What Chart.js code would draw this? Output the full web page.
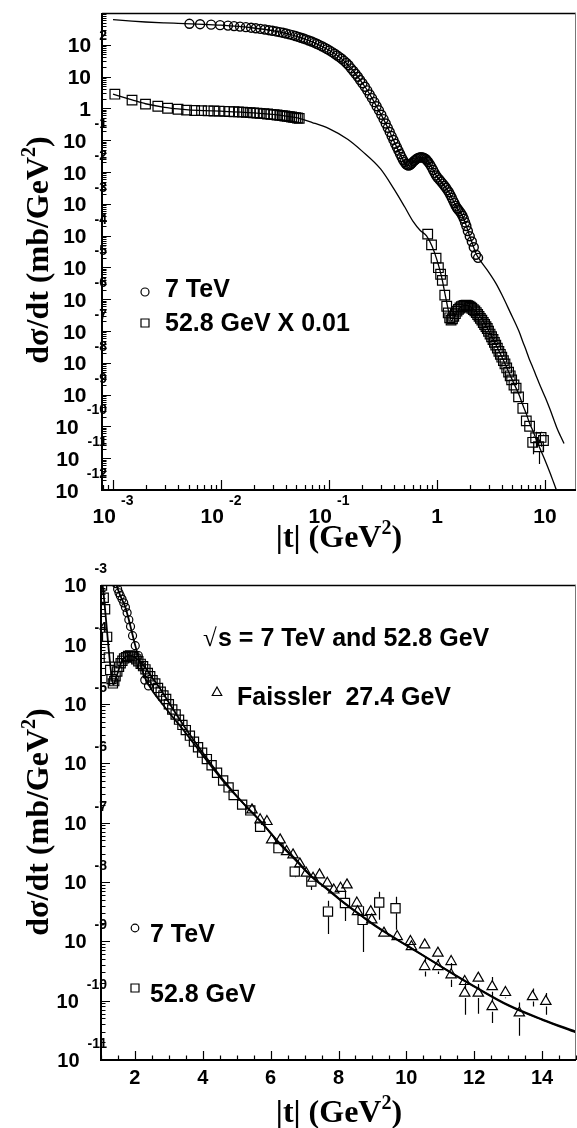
<!DOCTYPE html>
<html><head><meta charset="utf-8">
<script src="https://cdn.jsdelivr.net/npm/chart.js@4.4.1/dist/chart.umd.min.js"></script>
<style>
html,body{margin:0;padding:0;background:#fff;}
#wrap{position:relative;width:577px;height:1128px;overflow:hidden;}
canvas{position:absolute;left:0;}
#c1{top:0;} #c2{top:545px;}
</style></head><body>
<div id="wrap"><canvas id="c1" width="577" height="562"></canvas><canvas id="c2" width="577" height="583"></canvas></div>
<script>
// 7 TeV data, |t| in GeV^2, dsigma/dt in mb/GeV^2
const t7 = [0.0051,0.0064,0.0081,0.0098,0.0116,0.0132,0.015,0.017,0.019,0.021,0.0232,0.0255,0.0278,0.030,0.0325,0.035,0.0375,0.040,0.043,0.046,0.049,0.052,0.055,0.058,0.061,0.065,0.069,0.073,0.077,0.081,0.086,0.091,0.096,0.101,0.107,0.113,0.119,0.125,0.131,0.138,0.145,0.152,0.160,0.168,0.176,0.185,0.194,0.204,0.215,0.226,0.238,0.250,0.263,0.276,0.290,0.305,0.320,0.335,0.350,0.365,0.380,0.395,0.410,0.425,0.440,0.455,0.470,0.485,0.500,0.515,0.530,0.545,0.560,0.575,0.590,0.610,0.630,0.650,0.670,0.690,0.710,0.730,0.750,0.770,0.790,0.810,0.830,0.860,0.890,0.920,0.950,0.980,1.01,1.05,1.09,1.13,1.17,1.21,1.25,1.29,1.33,1.37,1.41,1.45,1.49,1.53,1.57,1.62,1.67,1.72,1.77,1.82,1.87,1.93,2.01,2.10,2.19,2.29,2.40];
const v7 = [457,445,430,415,401,388,374,359,345,332,317,302,288,277,263,250,238,226,213,201,189,178,167,158,148,137,127,117,108,99.4,89.8,81.3,73.5,66.5,58.9,52.2,46.2,41.0,36.3,31.2,26.8,22.8,18.2,15.0,12.3,9.9,7.8,6.2,4.8,3.7,2.75,2.1,1.57,1.17,0.87,0.63,0.46,0.335,0.245,0.182,0.135,0.102,0.0776,0.060,0.047,0.037,0.0295,0.024,0.0204,0.0178,0.0164,0.016,0.0166,0.0178,0.0195,0.0219,0.024,0.0263,0.0279,0.0288,0.0292,0.0288,0.0282,0.0269,0.0251,0.0229,0.0207,0.0174,0.0143,0.0116,0.0094,0.0078,0.0067,0.0058,0.0050,0.0043,0.0037,0.0032,0.0027,0.0023,0.0019,0.00155,0.00126,0.00105,8.6e-4,7.4e-4,6.6e-4,5.8e-4,5.0e-4,4.2e-4,3.4e-4,2.6e-4,2.0e-4,1.4e-4,9.5e-5,6.5e-5,4.3e-5,2.5e-5,2.0e-5];

// 52.8 GeV data (true values; top panel shows them x 0.01)
const tIsr = [0.00104,0.0015,0.002,0.0026,0.0032,0.004,0.0048,0.0057,0.0066,0.0076,0.0086,0.0096,0.0108,0.012,0.0132,0.0145,0.0158,0.0172,0.0186,0.020,0.0215,0.023,0.025,0.027,0.029,0.031,0.033,0.035,0.037,0.039,0.041,0.043,0.045,0.047,0.049,0.051,0.053,
  0.82,0.89,0.98,1.03,1.08,1.12,1.18,1.23,1.27,1.31,1.35,1.39,1.43,1.48,1.53,1.58,1.63,1.68,1.74,1.80,1.86,1.92,1.98,2.04,2.10,2.17,2.24,2.31,2.38,2.45,2.52,2.60,2.68,2.76,2.84,2.92,3.00,3.10,3.20,3.30,3.40,3.50,3.62,3.74,3.86,3.98,4.12,4.26,4.42,4.60,4.76,4.91,5.16,5.40,5.69,6.23,6.71,7.20,7.69,8.19,8.71,9.20,9.68];
const vIsr = [280,182,136,117,101,94,88,86,85,84,83,82,81,79.7,78.6,77.4,76.2,74.9,73.7,72.4,71.1,69.8,68.2,66.6,65.0,63.5,62.0,60.5,59.1,57.7,56.3,55.0,53.7,52.4,51.1,49.9,48.7,
  0.0111,0.0051,0.00195,9.8e-4,6.1e-4,3.9e-4,1.34e-4,6.0e-5,3.7e-5,2.6e-5,2.2e-5,2.4e-5,2.9e-5,3.5e-5,4.2e-5,4.8e-5,5.3e-5,5.8e-5,6.1e-5,6.4e-5,6.5e-5,6.3e-5,6.0e-5,5.6e-5,5.2e-5,4.7e-5,4.3e-5,3.8e-5,3.3e-5,2.9e-5,2.5e-5,2.2e-5,1.85e-5,1.6e-5,1.38e-5,1.2e-5,9.8e-6,8.0e-6,6.6e-6,5.4e-6,4.4e-6,3.6e-6,2.9e-6,2.3e-6,1.85e-6,1.5e-6,1.17e-6,9.2e-7,6.9e-7,5.1e-7,3.9e-7,2.9e-7,2.0e-7,1.6e-7,8.5e-8,3.7e-8,1.49e-8,1.01e-8,3.16e-9,4.4e-9,2.29e-9,4.5e-9,3.6e-9];
const isrScale = 0.01;
const isrErrT  = [6.71,7.20,7.69,8.19,8.71,9.20,9.68];
const isrErrLo = [1.2e-8,7.3e-9,1.33e-9,2.2e-9,6.6e-10,2.3e-9,1.56e-9];
const isrErrHi = [1.8e-8,1.3e-8,4.8e-9,6.8e-9,3.9e-9,6.8e-9,5.6e-9];

// Faissler 27.4 GeV
const tFais = [5.45,5.69,5.89,6.03,6.28,6.47,6.66,6.86,7.05,7.25,7.44,7.67,7.86,8.06,8.25,8.54,8.56,8.95,8.98,9.34,9.73,10.12,10.15,10.54,10.54,10.93,10.93,11.32,11.32,11.72,11.72,12.12,12.12,12.53,12.53,12.92,13.33,13.72,14.11];
const vFais = [1.63e-7,1.11e-7,1.04e-7,5.1e-8,5.1e-8,3.24e-8,2.85e-8,2.01e-8,1.40e-8,1.15e-8,1.31e-8,9.5e-9,7.3e-9,7.8e-9,8.9e-9,4.4e-9,3.16e-9,3.16e-9,2.29e-9,1.37e-9,1.2e-9,9.9e-10,8.1e-10,8.7e-10,3.75e-10,6.3e-10,3.75e-10,4.55e-10,2.72e-10,2.1e-10,1.34e-10,2.39e-10,1.34e-10,1.72e-10,7.9e-11,1.37e-10,6.2e-11,1.17e-10,9.7e-11];
const faisLo = Array(24).fill(null).concat([2.55e-10,null,2.8e-10,null,1.7e-10,null,5.8e-11,null,6.0e-11,1.2e-10,4.2e-11,1.1e-10,2.55e-11,8.0e-11,5.8e-11]);
const faisHi = Array(24).fill(null).concat([5.5e-10,null,5.0e-10,null,4.3e-10,null,2.0e-10,null,1.9e-10,2.5e-10,1.1e-10,1.7e-10,9.3e-11,1.6e-10,1.35e-10]);

// model curves
const fit7T = [0.001,0.0015,0.002,0.003,0.004,0.006,0.01,0.02,0.03,0.05,0.07,0.1,0.13,0.16,0.19,0.22,0.25,0.28,0.31,0.34,0.37,0.40,0.43,0.46,0.49,0.52,0.545,0.57,0.61,0.65,0.70,0.75,0.80,0.86,0.92,1.0,1.1,1.2,1.3,1.4,1.5,1.6,1.7,1.8,1.9,2.0,2.1,2.2,2.3,2.5,2.9,3.5,4.0,4.74,5.74,6.23,6.71,7.19,7.69,8.18,8.66,9.15,10.11,11.1,12.07,13.03,14.02,15.0];
const fit7V = [620,555,522,490,472,448,414,338,277,185,123,67.5,37.0,18.4,8.6,4.3,2.1,1.05,0.56,0.30,0.165,0.092,0.055,0.034,0.0225,0.0172,0.0160,0.0172,0.0218,0.0262,0.0290,0.0282,0.0242,0.0174,0.0117,0.0070,0.0048,0.0033,0.0022,0.00133,8.4e-4,6.0e-4,4.5e-4,2.9e-4,1.7e-4,1.0e-4,6.3e-5,4.0e-5,2.7e-5,1.7e-5,8.5e-6,3.2e-6,1.35e-6,4.0e-7,9.8e-8,4.6e-8,2.4e-8,1.24e-8,7.3e-9,4.3e-9,2.7e-9,1.7e-9,7.8e-10,3.5e-10,1.63e-10,8.1e-11,4.7e-11,2.9e-11];
const fit52T = [0.001,0.0015,0.002,0.003,0.004,0.005,0.007,0.01,0.02,0.03,0.04,0.05,0.07,0.1,0.15,0.2,0.3,0.4,0.5,0.6,0.7,0.8,0.9,1.0,1.1,1.2,1.3,1.36,1.45,1.6,1.8,1.9,2.0,2.2,2.3,2.5,2.7,3.0,3.5,4.0,4.5,4.77,5.25,5.74,6.23,6.71,7.19,7.69,8.18,8.66,9.15,10.11,11.1,12.07,13.03,14.02,15.0];
const fit52V = [280,185,140,108,96,90,85,81.5,72.5,64.5,57.5,51,36,23,10.5,4.7,1.25,0.29,0.082,0.028,0.0145,0.0098,0.0046,0.0017,5.2e-4,1.2e-4,3.3e-5,2.1e-5,2.8e-5,5.0e-5,6.4e-5,6.4e-5,6.0e-5,4.8e-5,4.1e-5,2.8e-5,1.95e-5,1.05e-5,3.8e-6,1.5e-6,6.2e-7,4.0e-7,1.95e-7,1.0e-7,4.7e-8,2.5e-8,1.26e-8,7.5e-9,4.4e-9,2.75e-9,1.74e-9,7.9e-10,3.55e-10,1.66e-10,8.3e-11,4.8e-11,3.0e-11];

// axis labels
const topXExp = [-3,-2,-1,0,1];
const topYExp = [-12,-11,-10,-9,-8,-7,-6,-5,-4,-3,-2,-1,0,1,2];
const botXTicks = [2,4,6,8,10,12,14];
const botYExp = [-11,-10,-9,-8,-7,-6,-5,-4,-3];

const SANS = '"Liberation Sans", Arial, Helvetica, sans-serif';
const SERIF = '"Liberation Serif", "Times New Roman", Times, serif';

function pts(ts, vs, f){ f = f || 1; return ts.map((t,i)=>({x:t, y:vs[i]*f})); }

function markerSet(data, style, r, bw){
  return {data, pointStyle:style, pointRadius:r, pointBorderColor:'#000', pointBorderWidth:bw||1,
    pointBackgroundColor:'rgba(0,0,0,0)', showLine:false, clip:0};
}
function curve(data, w){
  return {data, showLine:true, pointRadius:0, borderColor:'#000', borderWidth:w,
    cubicInterpolationMode:'monotone', fill:false, clip:0};
}

function logTicks(min, max){
  const out = [];
  for(let e=Math.floor(Math.log10(min)); e<=Math.ceil(Math.log10(max)); e++){
    for(let k=1;k<10;k++){ const v=k*Math.pow(10,e); if(v>=min*0.9999 && v<=max*1.0001) out.push({v, major:k===1}); }
  }
  return out;
}

function drawFrame(chart, xt, yt, L){
  const ctx=chart.ctx, a=chart.chartArea, xs=chart.scales.x, ys=chart.scales.y;
  ctx.save();
  ctx.strokeStyle='#000'; ctx.lineWidth=1.2; ctx.beginPath();
  xt.forEach(t=>{ const px=Math.round(xs.getPixelForValue(t.v))+0.5; const l=t.major?L[0]:L[1];
    ctx.moveTo(px,a.bottom); ctx.lineTo(px,a.bottom-l); });
  yt.forEach(t=>{ const py=Math.round(ys.getPixelForValue(t.v))+0.5; const l=t.major?L[2]:L[3];
    ctx.moveTo(a.left,py); ctx.lineTo(a.left+l,py); });
  ctx.stroke();
  ctx.lineWidth=1.5; ctx.beginPath(); ctx.moveTo(a.left,a.top+0.5); ctx.lineTo(a.right,a.top+0.5); ctx.stroke();
  ctx.lineWidth=1; ctx.strokeStyle='#777'; ctx.beginPath(); ctx.moveTo(a.right-0.5,a.top); ctx.lineTo(a.right-0.5,a.bottom); ctx.stroke();
  ctx.strokeStyle='#000'; ctx.lineWidth=2; ctx.beginPath();
  ctx.moveTo(a.left,a.top); ctx.lineTo(a.left,a.bottom); ctx.lineTo(a.right,a.bottom); ctx.stroke();
  ctx.restore();
}

function drawErrors(chart, list, gap){
  const ctx=chart.ctx, a=chart.chartArea, xs=chart.scales.x, ys=chart.scales.y;
  ctx.save(); ctx.beginPath(); ctx.rect(a.left,a.top,a.right-a.left,a.bottom-a.top); ctx.clip();
  ctx.strokeStyle='#000'; ctx.lineWidth=1.2; ctx.beginPath();
  list.forEach(e=>{
    const px=Math.round(xs.getPixelForValue(e[0]))+0.5, pc=ys.getPixelForValue(e[1]);
    const ph=ys.getPixelForValue(e[3]), pl=ys.getPixelForValue(e[2]);
    if(ph<pc-gap){ ctx.moveTo(px,ph); ctx.lineTo(px,pc-gap); }
    if(pl>pc+gap){ ctx.moveTo(px,pc+gap); ctx.lineTo(px,pl); }
  });
  ctx.stroke(); ctx.restore();
}

function yLabel(ctx, e, y, fs, es, right, plainRight){
  ctx.fillStyle='#000'; ctx.textAlign='right'; ctx.textBaseline='alphabetic';
  if(e===0 || e===1){ ctx.font=`bold ${fs}px ${SANS}`; ctx.fillText(e===0?'1':'10', plainRight, y+0.36*fs); return; }
  const s=String(e);
  ctx.font=`bold ${es}px ${SANS}`; const ws=ctx.measureText(s).width;
  ctx.fillText(s, right, y-(e<0?17:10)+0.36*es);
  ctx.font=`bold ${fs}px ${SANS}`; ctx.fillText('10', right-ws-8, y+0.36*fs);
}
function xLabel(ctx, e, x, y, fs, es){
  ctx.fillStyle='#000'; ctx.textBaseline='alphabetic';
  if(e===0 || e===1){ ctx.font=`bold ${fs}px ${SANS}`; ctx.textAlign='center'; ctx.fillText(e===0?'1':'10', x, y+0.36*fs); return; }
  const s=String(e);
  ctx.font=`bold ${es}px ${SANS}`; const ws=ctx.measureText(s).width;
  ctx.font=`bold ${fs}px ${SANS}`; const wb=ctx.measureText('10').width;
  const x0=x-(wb+5+ws)/2;
  ctx.textAlign='left'; ctx.fillText('10', x0, y+0.36*fs);
  ctx.font=`bold ${es}px ${SANS}`; ctx.fillText(s, x0+wb+5, y-15+0.36*es);
}

function title(ctx, cx, cy, rot, size, main){
  ctx.save(); ctx.translate(cx, cy); if(rot) ctx.rotate(-Math.PI/2);
  const f1=`bold ${size}px ${SERIF}`, f2=`bold ${Math.round(size*0.62)}px ${SERIF}`;
  ctx.font=f1; const w1=ctx.measureText(main).width, w3=ctx.measureText(')').width;
  ctx.font=f2; const w2=ctx.measureText('2').width;
  let x=-(w1+w2+w3)/2;
  ctx.fillStyle='#000'; ctx.textAlign='left'; ctx.textBaseline='alphabetic';
  ctx.font=f1; ctx.fillText(main,x,0); x+=w1;
  ctx.font=f2; ctx.fillText('2',x,-size*0.42); x+=w2;
  ctx.font=f1; ctx.fillText(')',x,0);
  ctx.restore();
}

function legendMark(ctx, kind, x, y, s){
  ctx.save(); ctx.strokeStyle='#000'; ctx.lineWidth=1.2; ctx.beginPath();
  if(kind==='circle') ctx.arc(x,y,s,0,Math.PI*2);
  else if(kind==='rect') ctx.rect(x-s,y-s,2*s,2*s);
  else { ctx.moveTo(x,y-s); ctx.lineTo(x+s*0.95,y+s*0.7); ctx.lineTo(x-s*0.95,y+s*0.7); ctx.closePath(); }
  ctx.stroke(); ctx.restore();
}
function text(ctx, s, x, y, size, font){
  ctx.fillStyle='#000'; ctx.textAlign='left'; ctx.textBaseline='alphabetic';
  ctx.font=`bold ${size}px ${font||SANS}`; ctx.fillText(s,x,y);
}

const baseOpts = (pad) => ({
  responsive:false, animation:false, events:[],
  layout:{padding:pad, autoPadding:false},
  plugins:{legend:{display:false}, tooltip:{enabled:false}}
});

// ---------- top panel ----------
const isrErrTop = isrErrT.map((t,i)=>[t, vIsr[tIsr.indexOf(t)]*isrScale, isrErrLo[i]*isrScale, isrErrHi[i]*isrScale]);
const topPlugin = {
  id:'topFrame',
  afterDatasetsDraw(chart){
    const ctx=chart.ctx, xs=chart.scales.x, ys=chart.scales.y;
    drawErrors(chart, isrErrTop, 5);
    drawFrame(chart, logTicks(xs.min, xs.max), logTicks(ys.min, ys.max), [10,5,9,4.5]);
    topXExp.forEach(e=>xLabel(ctx, e, xs.getPixelForValue(Math.pow(10,e)), 515, 21, 14));
    topYExp.forEach(e=>yLabel(ctx, e, ys.getPixelForValue(Math.pow(10,e)), 21, 14, 107, 91));
    title(ctx, 48, 250, true, 32, 'd\u03c3/dt (mb/GeV');
    title(ctx, 339, 547, false, 32, '|t| (GeV');
    legendMark(ctx,'circle',145,292,4);
    text(ctx,'7 TeV',165,297,25);
    legendMark(ctx,'rect',145,323,4);
    text(ctx,'52.8 GeV X 0.01',165,331,25);
  }
};
const topOpts = baseOpts({top:13,right:1,left:0,bottom:0});
topOpts.scales = {
  x:{type:'logarithmic', min:Math.pow(10,-3.102), max:Math.pow(10,1.287),
     ticks:{display:false}, grid:{display:false}, border:{display:false}, afterFit:s=>{s.height=72;}},
  y:{type:'logarithmic', min:1e-12, max:1e3,
     ticks:{display:false}, grid:{display:false}, border:{display:false}, afterFit:s=>{s.width=102;}}
};
new Chart(document.getElementById('c1'), {
  type:'scatter',
  data:{datasets:[
    markerSet(pts(t7,v7),'circle',4.5,1.4),
    markerSet(pts(tIsr,vIsr,isrScale),'rect',6.8,1.2),
    curve(pts(fit7T,fit7V),1.3),
    curve(pts(fit52T,fit52V,isrScale),1.3)
  ]},
  options:topOpts,
  plugins:[topPlugin]
});

// ---------- bottom panel ----------
const isrErrBot = isrErrT.map((t,i)=>[t, vIsr[tIsr.indexOf(t)], isrErrLo[i], isrErrHi[i]]);
const faisErr = [];
tFais.forEach((t,i)=>{ if(faisLo[i]!==null) faisErr.push([t, vFais[i], faisLo[i], faisHi[i]]); });
const botPlugin = {
  id:'botFrame',
  afterDatasetsDraw(chart){
    const ctx=chart.ctx, xs=chart.scales.x, ys=chart.scales.y;
    drawErrors(chart, isrErrBot, 5);
    drawErrors(chart, faisErr, 5);
    const xt=[]; for(let i=0;i<=28;i++){ const v=1+i*0.5; xt.push({v, major:botXTicks.includes(v)}); }
    drawFrame(chart, xt, logTicks(ys.min, ys.max), [9,4.5,9,4.5]);
    ctx.fillStyle='#000'; ctx.textAlign='center'; ctx.textBaseline='alphabetic'; ctx.font=`bold 20px ${SANS}`;
    botXTicks.forEach(v=>ctx.fillText(String(v), xs.getPixelForValue(v), 539));
    botYExp.forEach(e=>yLabel(ctx, e, ys.getPixelForValue(Math.pow(10,e)), 20, 14, 107, 91));
    title(ctx, 48, 277, true, 32, 'd\u03c3/dt (mb/GeV');
    title(ctx, 339, 577, false, 32, '|t| (GeV');
    ctx.fillStyle='#000'; ctx.textAlign='left'; ctx.font=`25px ${SERIF}`; ctx.fillText('\u221a', 203, 101);
    text(ctx,'s = 7 TeV and 52.8 GeV',218,101,25);
    legendMark(ctx,'tri',217,147,5);
    text(ctx,'Faissler  27.4 GeV',237,160,25);
    legendMark(ctx,'circle',135,383,3.8);
    text(ctx,'7 TeV',150,397,25);
    legendMark(ctx,'rect',135,443,4);
    text(ctx,'52.8 GeV',150,457,25);
  }
};
const botOpts = baseOpts({top:40,right:1,left:0,bottom:0});
botOpts.scales = {
  x:{type:'linear', min:1, max:15,
     ticks:{display:false}, grid:{display:false}, border:{display:false}, afterFit:s=>{s.height=68;}},
  y:{type:'logarithmic', min:1e-11, max:1e-3,
     ticks:{display:false}, grid:{display:false}, border:{display:false}, afterFit:s=>{s.width=101;}}
};
new Chart(document.getElementById('c2'), {
  type:'scatter',
  data:{datasets:[
    markerSet(pts(t7,v7),'circle',4,1.2),
    markerSet(pts(tIsr,vIsr),'rect',6.5,1.2),
    markerSet(pts(tFais,vFais),'triangle',6,1.2),
    curve(pts(fit7T,fit7V),1.8),
    curve(pts(fit52T,fit52V),1.8)
  ]},
  options:botOpts,
  plugins:[botPlugin]
});
</script>
</body></html>
